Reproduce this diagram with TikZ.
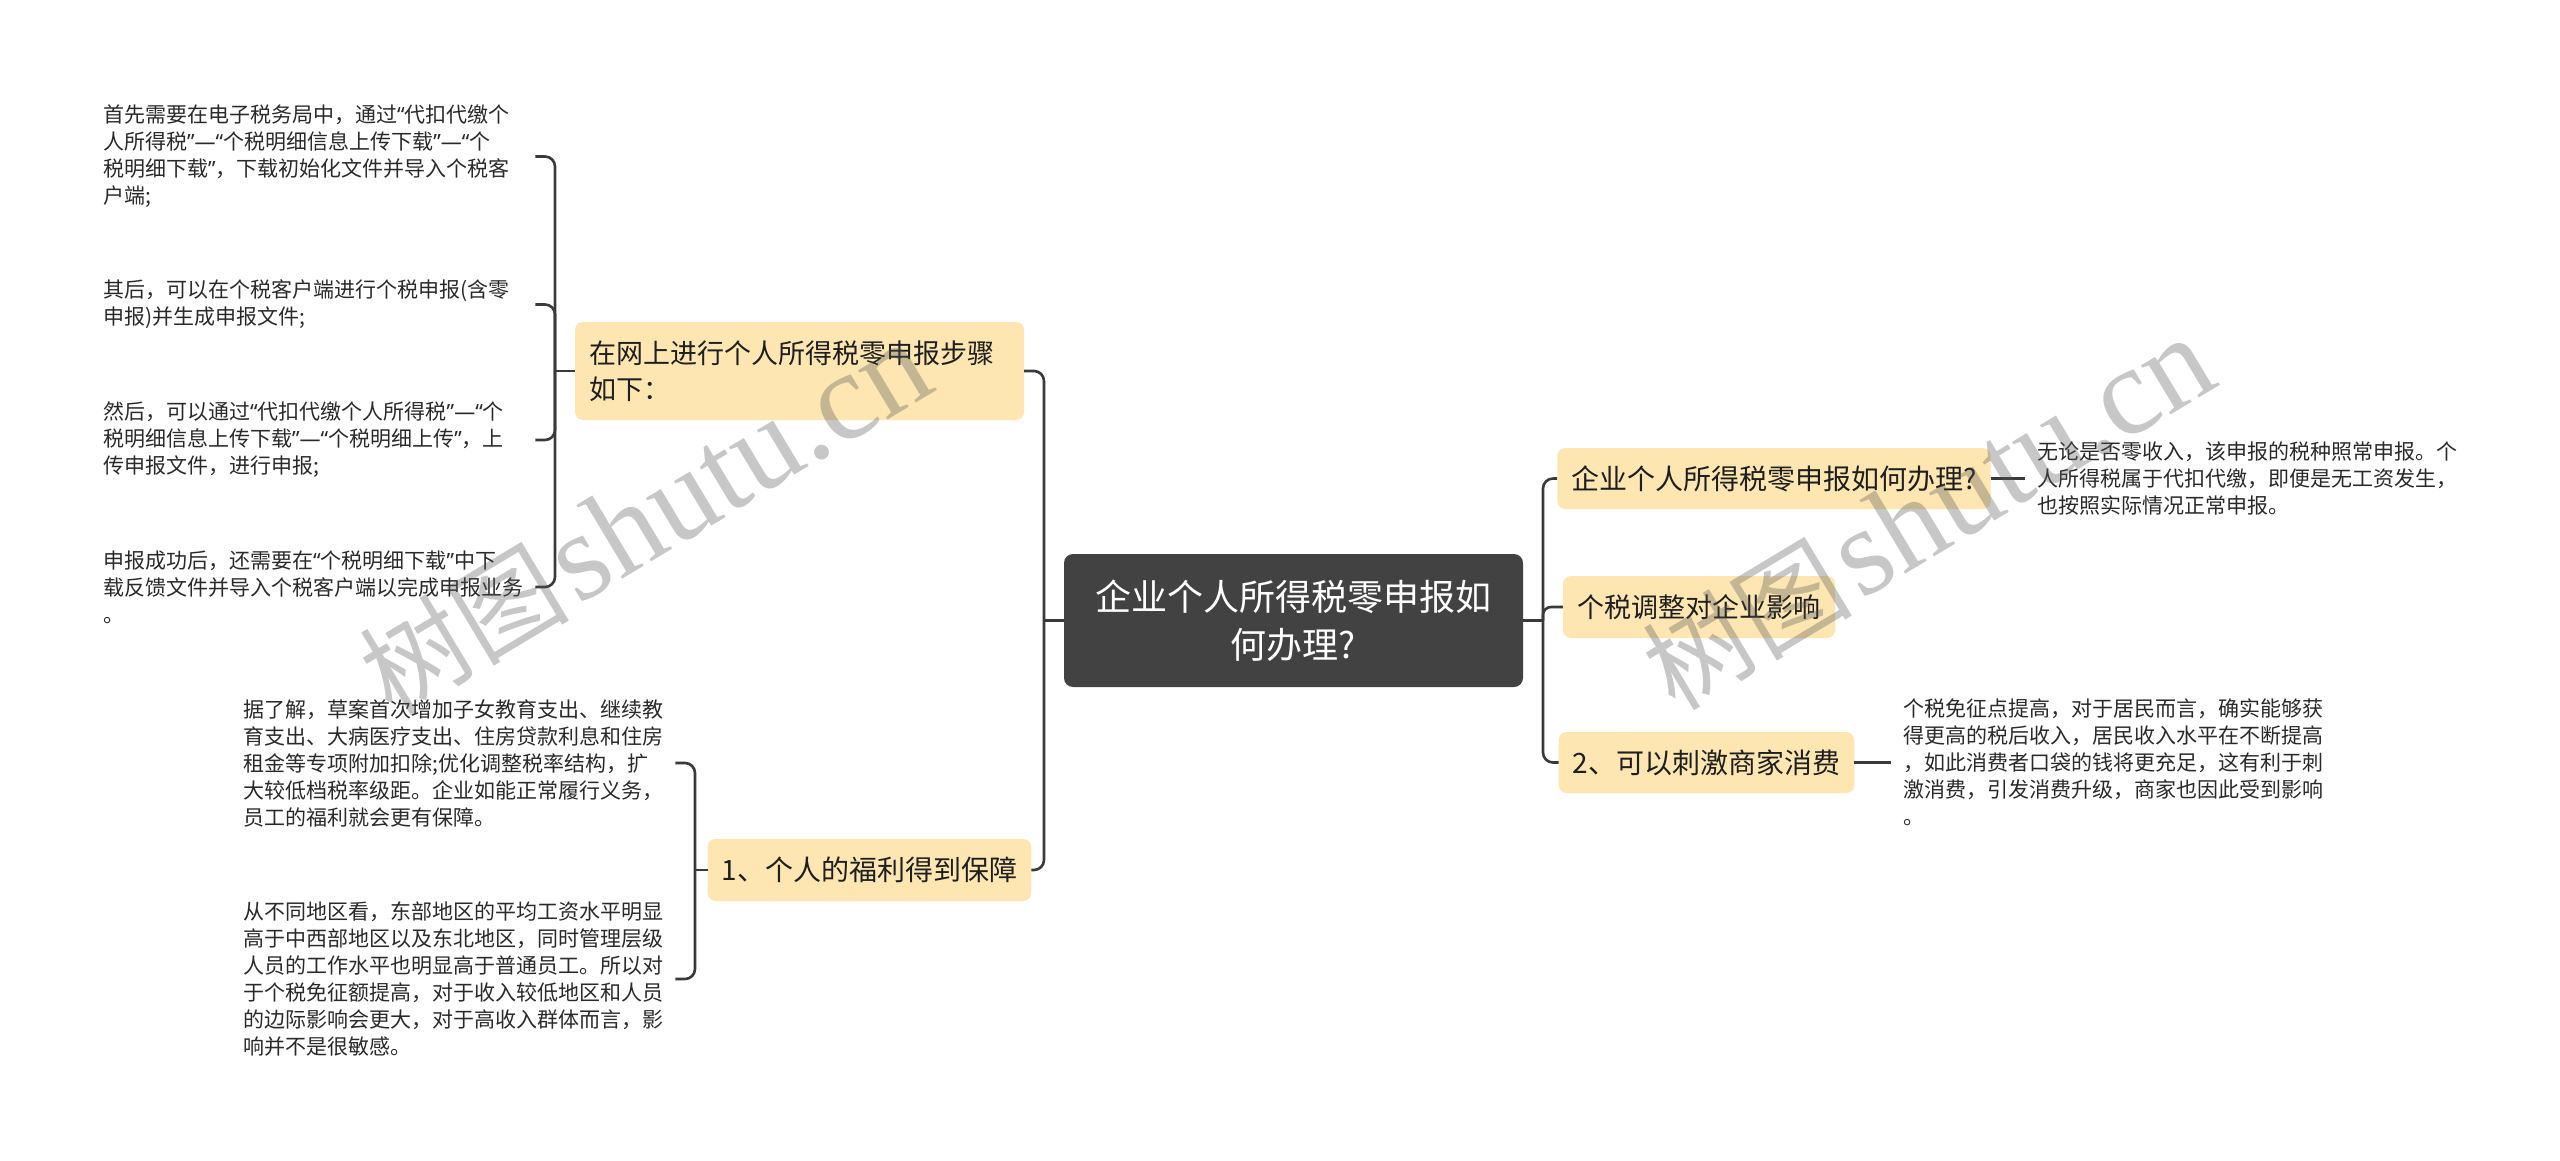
\documentclass[tikz,border=0pt]{standalone}
\usepackage{fontspec}
\setmainfont{Noto Sans CJK SC}
\newfontfamily\cjk{Noto Sans CJK SC}
\newfontfamily\wmserif{Liberation Serif}
\newfontfamily\qfont{Noto Sans}
\newcommand\qopen{{\qfont “}}
\newcommand\qclose{{\qfont ”}}
\newcommand\qdash{{\qfont —}}
\definecolor{nodefill}{HTML}{FDE6B2}
\definecolor{rootc}{HTML}{424242}
\definecolor{linec}{HTML}{3A3A3A}
\definecolor{textc}{HTML}{1F1F1F}
\definecolor{leafc}{HTML}{2A2A2A}
\definecolor{wmc}{HTML}{555555}
\tikzset{
  conn/.style={draw=linec, line width=2.6pt, rounded corners=10pt},
  topic/.style={fill=nodefill, rounded corners=8pt, inner xsep=14pt, inner ysep=0pt, align=center, text=textc, font=\fontsize{28}{36}\selectfont},
  rootbox/.style={fill=rootc, rounded corners=9pt, inner sep=0pt, align=center, text=white, font=\fontsize{36}{48}\selectfont},
  leaf/.style={anchor=west, text width=420pt, inner xsep=12pt, inner ysep=0pt, align=left, text=leafc, font=\fontsize{21}{27}\selectfont, execute at begin node={\hyphenpenalty=10000\exhyphenpenalty=10000}},
  wm/.style={text=wmc, text opacity=0.33, inner sep=0pt, rotate=31}
}
\begin{document}
\begin{tikzpicture}[x=1pt,y=-1pt]
\useasboundingbox (0,0) rectangle (2560,1161);
\fill[white] (0,0) rectangle (2560,1161);

% root
\node[rootbox, minimum width=459pt, minimum height=133pt] (root) at (1293.5,620.5) {企业个人所得税零申报如\\何办理?};

% left topics
\node[topic, minimum width=449pt, minimum height=98pt, text width=421pt, align=left, font=\fontsize{27}{36}\selectfont] (L1) at (799.5,371) {在网上进行个人所得税零申报步骤\\如下：};
\node[topic, minimum width=309pt, minimum height=62pt] (L2) at (869.5,870) {1、个人的福利得到保障};

% right topics
\node[topic, minimum width=422pt, minimum height=61pt] (A) at (1774,478.5) {企业个人所得税零申报如何办理?};
\node[topic, minimum width=272pt, minimum height=62pt, font=\fontsize{27}{36}\selectfont] (B) at (1699,607) {个税调整对企业影响};
\node[topic, minimum width=287pt, minimum height=61pt] (C) at (1706.5,762.5) {2、可以刺激商家消费};

% leaves left-top
\node[leaf] (l1) at (91,156.5) {首先需要在电子税务局中，通过\qopen 代扣代缴个\\人所得税\qclose\qdash\qopen 个税明细信息上传下载\qclose\qdash\qopen 个\\税明细下载\qclose ，下载初始化文件并导入个税客\\户端;};
\node[leaf] (l2) at (91,304.5) {其后，可以在个税客户端进行个税申报(含零\\申报)并生成申报文件;};
\node[leaf] (l3) at (91,440) {然后，可以通过\qopen 代扣代缴个人所得税\qclose\qdash\qopen 个\\税明细信息上传下载\qclose\qdash\qopen 个税明细上传\qclose ，上\\传申报文件，进行申报;};
\node[leaf] (l4) at (91,587) {申报成功后，还需要在\qopen 个税明细下载\qclose 中下\\载反馈文件并导入个税客户端以完成申报业务\\。};

% leaves left-bottom
\node[leaf] (m1) at (231,763) {据了解，草案首次增加子女教育支出、继续教\\育支出、大病医疗支出、住房贷款利息和住房\\租金等专项附加扣除;优化调整税率结构，扩\\大较低档税率级距。企业如能正常履行义务，\\员工的福利就会更有保障。};
\node[leaf] (m2) at (231,979) {从不同地区看，东部地区的平均工资水平明显\\高于中西部地区以及东北地区，同时管理层级\\人员的工作水平也明显高于普通员工。所以对\\于个税免征额提高，对于收入较低地区和人员\\的边际影响会更大，对于高收入群体而言，影\\响并不是很敏感。};

% leaves right
\node[leaf] (ra) at (2025,478.5) {无论是否零收入，该申报的税种照常申报。个\\人所得税属于代扣代缴，即便是无工资发生，\\也按照实际情况正常申报。};
\node[leaf] (rc) at (1891,762.5) {个税免征点提高，对于居民而言，确实能够获\\得更高的税后收入，居民收入水平在不断提高\\，如此消费者口袋的钱将更充足，这有利于刺\\激消费，引发消费升级，商家也因此受到影响\\。};

% junctions
\coordinate (jl) at (1044,620.5);
\coordinate (jr) at (1543,620.5);
\coordinate (jb) at (555,371);
\coordinate (jb2) at (695,870);

% connectors
\draw[conn] (root.west) -- (jl);
\draw[conn] (L1.east) -| (jl) |- (L2.east);
\draw[conn] (root.east) -- (jr);
\draw[conn] (A.west) -| (jr) |- (C.west);
\draw[conn, rounded corners=8pt] (jr) |- (B.west);
\draw[conn] (A.east) -- (ra.west);
\draw[conn] (C.east) -- (rc.west);

\draw[conn] (l1.east) -| (jb) |- (l4.east);
\draw[conn] (l2.east) -| (jb);
\draw[conn] (l3.east) -| (jb);
\draw[conn] (jb) -- (L1.west);

\draw[conn] (m1.east) -| (jb2) |- (m2.east);
\draw[conn] (jb2) -- (L2.west);

% watermarks
\node[wm] (wm1) at (645,519) {{\cjk\fontsize{105}{105}\selectfont 树图}\hspace{8pt}{\wmserif\fontsize{125}{125}\selectfont shutu.cn}};
\node[wm] (wm2) at (1928,514) {{\cjk\fontsize{105}{105}\selectfont 树图}\hspace{8pt}{\wmserif\fontsize{125}{125}\selectfont shutu.cn}};
\end{tikzpicture}
\end{document}
